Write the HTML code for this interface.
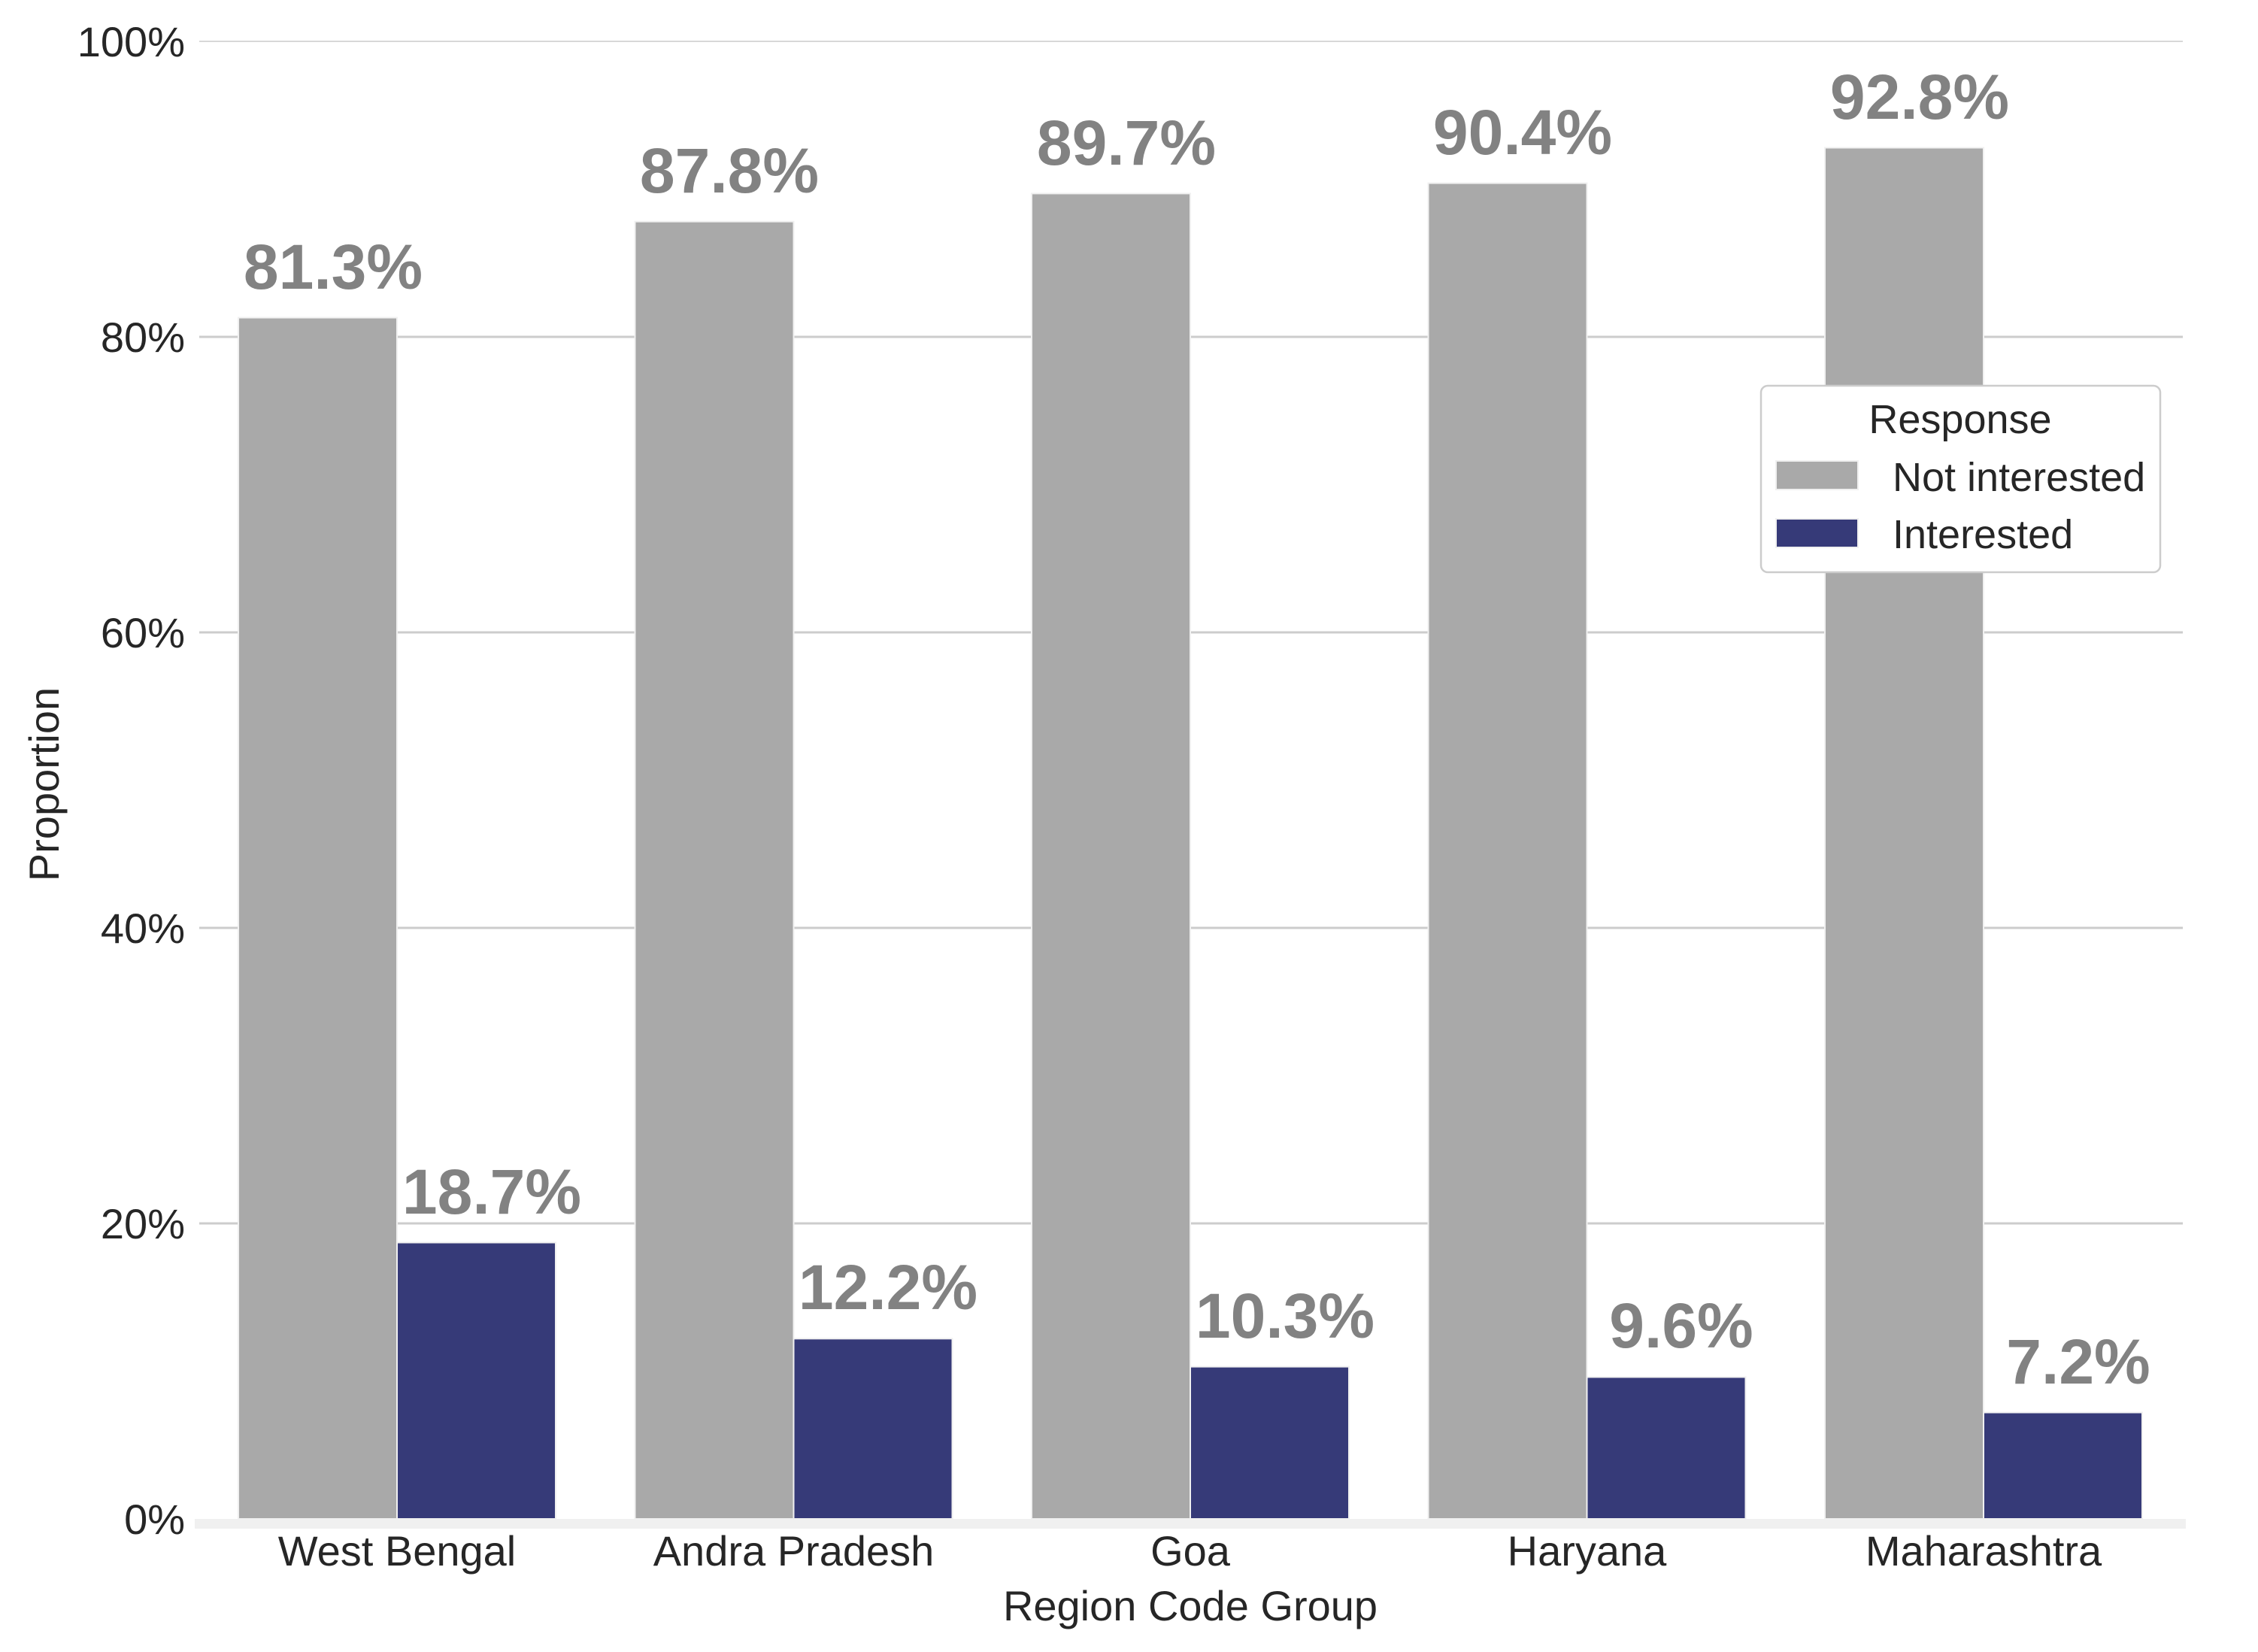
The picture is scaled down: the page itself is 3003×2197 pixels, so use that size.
<!DOCTYPE html>
<html><head><meta charset="utf-8"><style>html,body{margin:0;padding:0;background:#fff}</style></head>
<body>
<svg width="3003" height="2192" viewBox="0 0 3003 2192" xmlns="http://www.w3.org/2000/svg" font-family="'Liberation Sans', Arial, sans-serif">
<rect width="3003" height="2192" fill="#fff"/>
<!-- grid -->
<g stroke="#cccccc" stroke-width="3">
<line x1="265" x2="2903" y1="1627" y2="1627"/>
<line x1="265" x2="2903" y1="1234" y2="1234"/>
<line x1="265" x2="2903" y1="841" y2="841"/>
<line x1="265" x2="2903" y1="448" y2="448"/>
</g>
<line x1="265" x2="2903" y1="55" y2="55" stroke="#cccccc" stroke-width="1.5"/>
<!-- bars -->
<g stroke="#f0f0f0" stroke-width="2">
<rect x="317" y="422.5" width="211" height="1597.5" fill="#a9a9a9"/>
<rect x="528" y="1652.5" width="211" height="367.5" fill="#363a78"/>
<rect x="844.5" y="294.7" width="211" height="1725.3" fill="#a9a9a9"/>
<rect x="1055.5" y="1780.3" width="211" height="239.7" fill="#363a78"/>
<rect x="1372" y="257.4" width="211" height="1762.6" fill="#a9a9a9"/>
<rect x="1583" y="1817.6" width="211" height="202.4" fill="#363a78"/>
<rect x="1899.5" y="243.6" width="211" height="1776.4" fill="#a9a9a9"/>
<rect x="2110.5" y="1831.4" width="211" height="188.6" fill="#363a78"/>
<rect x="2427" y="196.5" width="211" height="1823.5" fill="#a9a9a9"/>
<rect x="2638" y="1878.5" width="211" height="141.5" fill="#363a78"/>
</g>
<!-- bottom spine -->
<rect x="259" y="2020" width="2648" height="13" fill="#f0f0f0"/>
<!-- value labels -->
<g fill="#828282" font-weight="bold" font-size="84" text-anchor="middle">
<text x="443" y="384">81.3%</text>
<text x="654" y="1614">18.7%</text>
<text x="970" y="256">87.8%</text>
<text x="1181" y="1741">12.2%</text>
<text x="1498" y="219">89.7%</text>
<text x="1709" y="1779">10.3%</text>
<text x="2025" y="205">90.4%</text>
<text x="2236" y="1792">9.6%</text>
<text x="2553" y="158">92.8%</text>
<text x="2764" y="1840">7.2%</text>
</g>
<!-- y ticks -->
<g fill="#262626" font-size="56" text-anchor="end">
<text x="246" y="75">100%</text>
<text x="246" y="468">80%</text>
<text x="246" y="861">60%</text>
<text x="246" y="1254">40%</text>
<text x="246" y="1647">20%</text>
<text x="246" y="2040">0%</text>
</g>
<!-- x ticks -->
<g fill="#262626" font-size="56" text-anchor="middle">
<text x="528" y="2082">West Bengal</text>
<text x="1055.5" y="2082">Andra Pradesh</text>
<text x="1583" y="2082">Goa</text>
<text x="2110.5" y="2082">Haryana</text>
<text x="2638" y="2082">Maharashtra</text>
<text x="1583" y="2155">Region Code Group</text>
</g>
<text transform="translate(78,1043) rotate(-90)" fill="#262626" font-size="56" text-anchor="middle">Proportion</text>
<!-- legend -->
<rect x="2342" y="513" width="531" height="248" rx="9" fill="#fff" stroke="#cccccc" stroke-width="2.5"/>
<text x="2607" y="576" fill="#262626" font-size="54" text-anchor="middle">Response</text>
<rect x="2362" y="613" width="109" height="38" fill="#a9a9a9" stroke="#f0f0f0" stroke-width="2"/>
<rect x="2362" y="690" width="109" height="38" fill="#363a78" stroke="#f0f0f0" stroke-width="2"/>
<text x="2517" y="653" fill="#262626" font-size="54">Not interested</text>
<text x="2517" y="729" fill="#262626" font-size="54">Interested</text>
</svg>
</body></html>
